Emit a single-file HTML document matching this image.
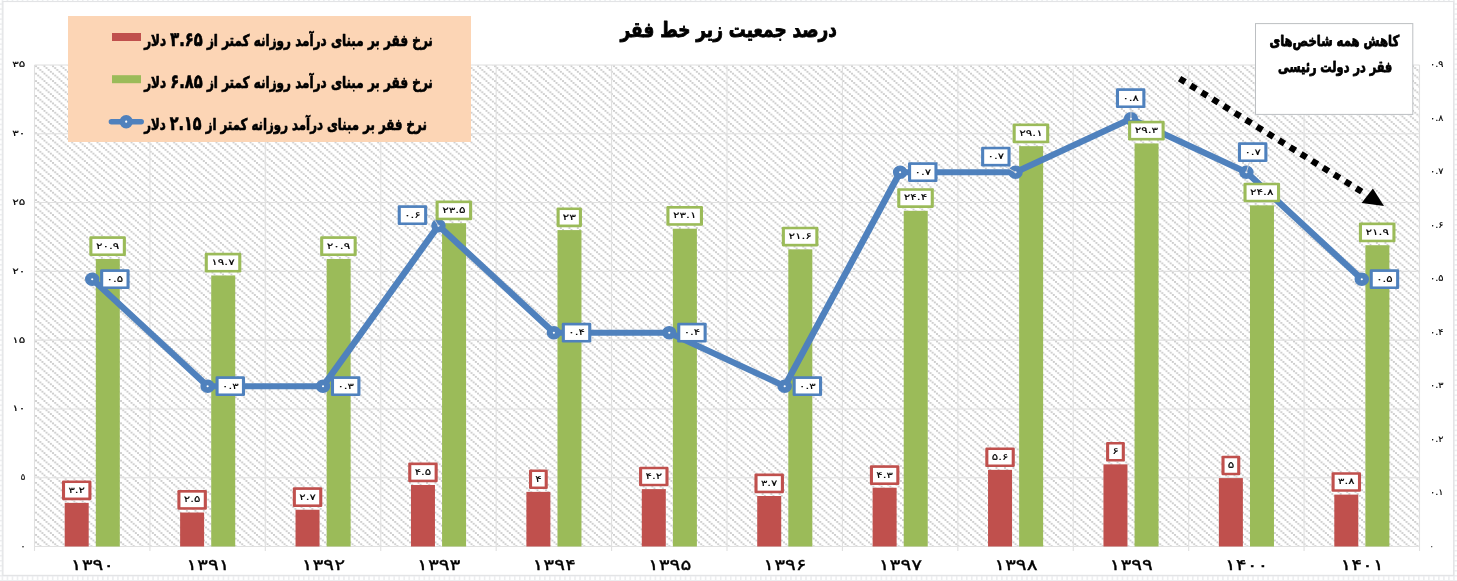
<!DOCTYPE html>
<html lang="fa"><head><meta charset="utf-8"><title>درصد جمعیت زیر خط فقر</title>
<style>
html,body{margin:0;padding:0;background:#fff;}
body{width:1457px;height:581px;overflow:hidden;}
svg{display:block;}
text{font-family:"DejaVu Sans", "Liberation Sans", sans-serif;font-weight:bold;fill:#000;}
.ax{font-size:8.8px;font-weight:normal;stroke:#000;stroke-width:0.15px;}
.dl{font-size:8.6px;font-weight:normal;stroke:#000;stroke-width:0.15px;}
.cat{font-size:15px;font-weight:normal;stroke:#000;stroke-width:0.3px;}
.lg{font-size:16px;stroke:#000;stroke-width:0.7px;stroke-linejoin:round;}
.lgd{font-size:19.5px;letter-spacing:1.2px;}
.tt{font-size:21px;stroke:#000;stroke-width:0.9px;stroke-linejoin:round;}
.tb{font-size:15px;stroke:#000;stroke-width:0.85px;stroke-linejoin:round;}
</style></head><body>
<svg width="1457" height="581" viewBox="0 0 1457 581" role="img" aria-label="درصد جمعیت زیر خط فقر">
<defs>
<pattern id="hatch" x="35.00" y="65.30" width="8.5" height="7.44" patternUnits="userSpaceOnUse">
<rect width="8.5" height="7.44" fill="#fff"/>
<rect x="0.10" y="0.13" width="1.8" height="1.55" fill="#BFBFBF"/>
<rect x="2.23" y="1.99" width="1.8" height="1.55" fill="#BFBFBF"/>
<rect x="4.35" y="3.85" width="1.8" height="1.55" fill="#BFBFBF"/>
<rect x="6.47" y="5.71" width="1.8" height="1.55" fill="#BFBFBF"/>
</pattern>
<pattern id="cells" x="6.65" y="3.35" width="5.0226" height="5.014" patternUnits="userSpaceOnUse">
<rect width="5.1" height="5.1" fill="#fff"/><rect width="1.5" height="5.1" fill="#ECEDEF"/><rect width="5.1" height="1.5" fill="#ECEDEF"/>
</pattern>
</defs>
<rect x="0" y="0" width="1457" height="581" fill="url(#cells)"/>
<rect x="2.9" y="1.5" width="1450.7" height="573.9" fill="#fff" stroke="#E3E4E6" stroke-width="1.2"/>
<rect x="34.5" y="65.0" width="1385.0" height="481.5" fill="url(#hatch)"/>
<path d="M34.5 65.00H1419.5M34.5 133.79H1419.5M34.5 202.57H1419.5M34.5 271.36H1419.5M34.5 340.14H1419.5M34.5 408.93H1419.5M34.5 477.71H1419.5M34.5 546.50H1419.5M34.50 65.0V551.0M149.92 65.0V551.0M265.33 65.0V551.0M380.75 65.0V551.0M496.17 65.0V551.0M611.58 65.0V551.0M727.00 65.0V551.0M842.42 65.0V551.0M957.83 65.0V551.0M1073.25 65.0V551.0M1188.67 65.0V551.0M1304.08 65.0V551.0M1419.50 65.0V551.0" fill="none" stroke="#E0E0E0" stroke-width="1.1"/>
<rect x="64.71" y="502.88" width="24" height="43.62" fill="#C0504D"/>
<rect x="95.81" y="258.98" width="24" height="287.52" fill="#9BBB59"/>
<rect x="180.12" y="512.51" width="24" height="33.99" fill="#C0504D"/>
<rect x="211.22" y="275.48" width="24" height="271.02" fill="#9BBB59"/>
<rect x="295.54" y="509.76" width="24" height="36.74" fill="#C0504D"/>
<rect x="326.64" y="258.98" width="24" height="287.52" fill="#9BBB59"/>
<rect x="410.96" y="484.99" width="24" height="61.51" fill="#C0504D"/>
<rect x="442.06" y="223.21" width="24" height="323.29" fill="#9BBB59"/>
<rect x="526.38" y="491.87" width="24" height="54.63" fill="#C0504D"/>
<rect x="557.48" y="230.09" width="24" height="316.41" fill="#9BBB59"/>
<rect x="641.79" y="489.12" width="24" height="57.38" fill="#C0504D"/>
<rect x="672.89" y="228.71" width="24" height="317.79" fill="#9BBB59"/>
<rect x="757.21" y="496.00" width="24" height="50.50" fill="#C0504D"/>
<rect x="788.31" y="249.35" width="24" height="297.15" fill="#9BBB59"/>
<rect x="872.62" y="487.74" width="24" height="58.76" fill="#C0504D"/>
<rect x="903.73" y="210.83" width="24" height="335.67" fill="#9BBB59"/>
<rect x="988.04" y="469.86" width="24" height="76.64" fill="#C0504D"/>
<rect x="1019.14" y="146.17" width="24" height="400.33" fill="#9BBB59"/>
<rect x="1103.46" y="464.36" width="24" height="82.14" fill="#C0504D"/>
<rect x="1134.56" y="143.42" width="24" height="403.08" fill="#9BBB59"/>
<rect x="1218.88" y="478.11" width="24" height="68.39" fill="#C0504D"/>
<rect x="1249.97" y="205.32" width="24" height="341.18" fill="#9BBB59"/>
<rect x="1334.29" y="494.62" width="24" height="51.88" fill="#C0504D"/>
<rect x="1365.39" y="245.22" width="24" height="301.28" fill="#9BBB59"/>
<g transform="scale(1.080 1)">
<polyline points="85.38,279.20 192.25,386.20 299.11,386.20 405.98,225.70 512.85,332.70 619.71,332.70 726.58,386.20 833.45,172.20 940.32,172.20 1047.18,118.70 1154.05,172.20 1260.92,279.20" fill="none" stroke="#4F81BD" stroke-width="6.1" stroke-linejoin="round" stroke-linecap="round"/>
<circle cx="85.38" cy="279.30" r="3.85" fill="#fff" stroke="#4F81BD" stroke-width="5.7"/>
<circle cx="192.25" cy="386.30" r="3.85" fill="#fff" stroke="#4F81BD" stroke-width="5.7"/>
<circle cx="299.11" cy="386.30" r="3.85" fill="#fff" stroke="#4F81BD" stroke-width="5.7"/>
<circle cx="405.98" cy="225.80" r="3.85" fill="#fff" stroke="#4F81BD" stroke-width="5.7"/>
<circle cx="512.85" cy="332.80" r="3.85" fill="#fff" stroke="#4F81BD" stroke-width="5.7"/>
<circle cx="619.71" cy="332.80" r="3.85" fill="#fff" stroke="#4F81BD" stroke-width="5.7"/>
<circle cx="726.58" cy="386.30" r="3.85" fill="#fff" stroke="#4F81BD" stroke-width="5.7"/>
<circle cx="833.45" cy="172.30" r="3.85" fill="#fff" stroke="#4F81BD" stroke-width="5.7"/>
<circle cx="940.32" cy="172.30" r="3.85" fill="#fff" stroke="#4F81BD" stroke-width="5.7"/>
<circle cx="1047.18" cy="118.80" r="3.85" fill="#fff" stroke="#4F81BD" stroke-width="5.7"/>
<circle cx="1154.05" cy="172.30" r="3.85" fill="#fff" stroke="#4F81BD" stroke-width="5.7"/>
<circle cx="1260.92" cy="279.30" r="3.85" fill="#fff" stroke="#4F81BD" stroke-width="5.7"/>
</g>
<polyline points="426.76,215.00 432.26,216.00 438.46,225.80" fill="none" stroke="#C9CED6" stroke-width="1"/>
<polyline points="1004.54,166.30 1015.54,172.30" fill="none" stroke="#C9CED6" stroke-width="1"/>
<polyline points="1130.96,108.80 1130.96,118.80" fill="none" stroke="#C9CED6" stroke-width="1"/>
<polyline points="1249.38,162.30 1246.38,172.30" fill="none" stroke="#C9CED6" stroke-width="1"/>
<rect x="89.31" y="236.33" width="36.60" height="19.70" rx="1.3" fill="#9BBB59"/>
<rect x="92.41" y="238.93" width="30.40" height="14.50" fill="#fff"/>
<text id="t1" class="dl" transform="translate(107.61 248.58) scale(1.4162 1)" text-anchor="middle">۲۰.۹</text>
<rect x="204.72" y="252.83" width="36.60" height="19.70" rx="1.3" fill="#9BBB59"/>
<rect x="207.82" y="255.43" width="30.40" height="14.50" fill="#fff"/>
<text id="t2" class="dl" transform="translate(223.03 265.08) scale(1.4162 1)" text-anchor="middle">۱۹.۷</text>
<rect x="320.14" y="236.33" width="36.60" height="19.70" rx="1.3" fill="#9BBB59"/>
<rect x="323.24" y="238.93" width="30.40" height="14.50" fill="#fff"/>
<text id="t3" class="dl" transform="translate(338.44 248.58) scale(1.4162 1)" text-anchor="middle">۲۰.۹</text>
<rect x="435.56" y="200.56" width="36.60" height="19.70" rx="1.3" fill="#9BBB59"/>
<rect x="438.66" y="203.16" width="30.40" height="14.50" fill="#fff"/>
<text id="t4" class="dl" transform="translate(453.86 212.81) scale(1.4162 1)" text-anchor="middle">۲۳.۵</text>
<rect x="556.57" y="207.44" width="25.40" height="19.70" rx="1.3" fill="#9BBB59"/>
<rect x="559.67" y="210.04" width="19.20" height="14.50" fill="#fff"/>
<text id="t5" class="dl" transform="translate(569.27 219.69) scale(1.4619 1)" text-anchor="middle">۲۳</text>
<rect x="666.39" y="206.06" width="36.60" height="19.70" rx="1.3" fill="#9BBB59"/>
<rect x="669.49" y="208.66" width="30.40" height="14.50" fill="#fff"/>
<text id="t6" class="dl" transform="translate(684.69 218.31) scale(1.4162 1)" text-anchor="middle">۲۳.۱</text>
<rect x="781.81" y="226.70" width="36.60" height="19.70" rx="1.3" fill="#9BBB59"/>
<rect x="784.91" y="229.30" width="30.40" height="14.50" fill="#fff"/>
<text id="t7" class="dl" transform="translate(800.11 238.95) scale(1.4162 1)" text-anchor="middle">۲۱.۶</text>
<rect x="897.23" y="188.18" width="36.60" height="19.70" rx="1.3" fill="#9BBB59"/>
<rect x="900.33" y="190.78" width="30.40" height="14.50" fill="#fff"/>
<text id="t8" class="dl" transform="translate(915.52 200.43) scale(1.4162 1)" text-anchor="middle">۲۴.۴</text>
<rect x="1012.64" y="123.52" width="36.60" height="19.70" rx="1.3" fill="#9BBB59"/>
<rect x="1015.74" y="126.12" width="30.40" height="14.50" fill="#fff"/>
<text id="t9" class="dl" transform="translate(1030.94 135.77) scale(1.4162 1)" text-anchor="middle">۲۹.۱</text>
<rect x="1128.06" y="120.77" width="36.60" height="19.70" rx="1.3" fill="#9BBB59"/>
<rect x="1131.16" y="123.37" width="30.40" height="14.50" fill="#fff"/>
<text id="t10" class="dl" transform="translate(1146.36 133.02) scale(1.4162 1)" text-anchor="middle">۲۹.۳</text>
<rect x="1243.48" y="182.67" width="36.60" height="19.70" rx="1.3" fill="#9BBB59"/>
<rect x="1246.58" y="185.27" width="30.40" height="14.50" fill="#fff"/>
<text id="t11" class="dl" transform="translate(1261.78 194.92) scale(1.4162 1)" text-anchor="middle">۲۴.۸</text>
<rect x="1358.89" y="222.57" width="36.60" height="19.70" rx="1.3" fill="#9BBB59"/>
<rect x="1361.99" y="225.17" width="30.40" height="14.50" fill="#fff"/>
<text id="t12" class="dl" transform="translate(1377.19 234.82) scale(1.4162 1)" text-anchor="middle">۲۱.۹</text>
<rect x="61.96" y="480.43" width="29.50" height="19.70" rx="1.3" fill="#C0504D"/>
<rect x="65.06" y="483.03" width="23.30" height="14.50" fill="#fff"/>
<text id="t13" class="dl" transform="translate(76.71 492.68) scale(1.3786 1)" text-anchor="middle">۳.۲</text>
<rect x="177.38" y="490.06" width="29.50" height="19.70" rx="1.3" fill="#C0504D"/>
<rect x="180.47" y="492.66" width="23.30" height="14.50" fill="#fff"/>
<text id="t14" class="dl" transform="translate(192.12 502.31) scale(1.3786 1)" text-anchor="middle">۲.۵</text>
<rect x="292.79" y="487.31" width="29.50" height="19.70" rx="1.3" fill="#C0504D"/>
<rect x="295.89" y="489.91" width="23.30" height="14.50" fill="#fff"/>
<text id="t15" class="dl" transform="translate(307.54 499.56) scale(1.3786 1)" text-anchor="middle">۲.۷</text>
<rect x="408.21" y="462.54" width="29.50" height="19.70" rx="1.3" fill="#C0504D"/>
<rect x="411.31" y="465.14" width="23.30" height="14.50" fill="#fff"/>
<text id="t16" class="dl" transform="translate(422.96 474.79) scale(1.3786 1)" text-anchor="middle">۴.۵</text>
<rect x="528.98" y="469.42" width="18.80" height="19.70" rx="1.3" fill="#C0504D"/>
<rect x="532.08" y="472.02" width="12.60" height="14.50" fill="#fff"/>
<text id="t17" class="dl" transform="translate(538.38 481.67) scale(1.4054 1)" text-anchor="middle">۴</text>
<rect x="639.04" y="466.67" width="29.50" height="19.70" rx="1.3" fill="#C0504D"/>
<rect x="642.14" y="469.27" width="23.30" height="14.50" fill="#fff"/>
<text id="t18" class="dl" transform="translate(653.79 478.92) scale(1.3786 1)" text-anchor="middle">۴.۲</text>
<rect x="754.46" y="473.55" width="29.50" height="19.70" rx="1.3" fill="#C0504D"/>
<rect x="757.56" y="476.15" width="23.30" height="14.50" fill="#fff"/>
<text id="t19" class="dl" transform="translate(769.21 485.80) scale(1.3786 1)" text-anchor="middle">۳.۷</text>
<rect x="869.88" y="465.29" width="29.50" height="19.70" rx="1.3" fill="#C0504D"/>
<rect x="872.98" y="467.89" width="23.30" height="14.50" fill="#fff"/>
<text id="t20" class="dl" transform="translate(884.62 477.54) scale(1.3786 1)" text-anchor="middle">۴.۳</text>
<rect x="985.29" y="447.41" width="29.50" height="19.70" rx="1.3" fill="#C0504D"/>
<rect x="988.39" y="450.01" width="23.30" height="14.50" fill="#fff"/>
<text id="t21" class="dl" transform="translate(1000.04 459.66) scale(1.3786 1)" text-anchor="middle">۵.۶</text>
<rect x="1106.06" y="441.91" width="18.80" height="19.70" rx="1.3" fill="#C0504D"/>
<rect x="1109.16" y="444.51" width="12.60" height="14.50" fill="#fff"/>
<text id="t22" class="dl" transform="translate(1115.46 454.16) scale(1.4054 1)" text-anchor="middle">۶</text>
<rect x="1221.47" y="455.66" width="18.80" height="19.70" rx="1.3" fill="#C0504D"/>
<rect x="1224.57" y="458.26" width="12.60" height="14.50" fill="#fff"/>
<text id="t23" class="dl" transform="translate(1230.88 467.91) scale(1.4054 1)" text-anchor="middle">۵</text>
<rect x="1331.54" y="472.17" width="29.50" height="19.70" rx="1.3" fill="#C0504D"/>
<rect x="1334.64" y="474.77" width="23.30" height="14.50" fill="#fff"/>
<text id="t24" class="dl" transform="translate(1346.29 484.42) scale(1.3786 1)" text-anchor="middle">۳.۸</text>
<rect x="100.11" y="269.35" width="29.50" height="19.70" rx="1.3" fill="#4F81BD"/>
<rect x="103.21" y="271.95" width="23.30" height="14.50" fill="#fff"/>
<text id="t25" class="dl" transform="translate(114.86 281.60) scale(1.3786 1)" text-anchor="middle">۰.۵</text>
<rect x="215.53" y="376.35" width="29.50" height="19.70" rx="1.3" fill="#4F81BD"/>
<rect x="218.62" y="378.95" width="23.30" height="14.50" fill="#fff"/>
<text id="t26" class="dl" transform="translate(230.28 388.60) scale(1.3786 1)" text-anchor="middle">۰.۳</text>
<rect x="330.94" y="376.35" width="29.50" height="19.70" rx="1.3" fill="#4F81BD"/>
<rect x="334.04" y="378.95" width="23.30" height="14.50" fill="#fff"/>
<text id="t27" class="dl" transform="translate(345.69 388.60) scale(1.3786 1)" text-anchor="middle">۰.۳</text>
<rect x="397.71" y="205.35" width="29.50" height="19.70" rx="1.3" fill="#4F81BD"/>
<rect x="400.81" y="207.95" width="23.30" height="14.50" fill="#fff"/>
<text id="t28" class="dl" transform="translate(412.46 217.60) scale(1.3786 1)" text-anchor="middle">۰.۶</text>
<rect x="561.77" y="322.85" width="29.50" height="19.70" rx="1.3" fill="#4F81BD"/>
<rect x="564.88" y="325.45" width="23.30" height="14.50" fill="#fff"/>
<text id="t29" class="dl" transform="translate(576.52 335.10) scale(1.3786 1)" text-anchor="middle">۰.۴</text>
<rect x="677.19" y="322.85" width="29.50" height="19.70" rx="1.3" fill="#4F81BD"/>
<rect x="680.29" y="325.45" width="23.30" height="14.50" fill="#fff"/>
<text id="t30" class="dl" transform="translate(691.94 335.10) scale(1.3786 1)" text-anchor="middle">۰.۴</text>
<rect x="792.61" y="376.35" width="29.50" height="19.70" rx="1.3" fill="#4F81BD"/>
<rect x="795.71" y="378.95" width="23.30" height="14.50" fill="#fff"/>
<text id="t31" class="dl" transform="translate(807.36 388.60) scale(1.3786 1)" text-anchor="middle">۰.۳</text>
<rect x="908.02" y="162.35" width="29.50" height="19.70" rx="1.3" fill="#4F81BD"/>
<rect x="911.12" y="164.95" width="23.30" height="14.50" fill="#fff"/>
<text id="t32" class="dl" transform="translate(922.77 174.60) scale(1.3786 1)" text-anchor="middle">۰.۷</text>
<rect x="981.09" y="146.75" width="29.50" height="19.70" rx="1.3" fill="#4F81BD"/>
<rect x="984.19" y="149.35" width="23.30" height="14.50" fill="#fff"/>
<text id="t33" class="dl" transform="translate(995.84 159.00) scale(1.3786 1)" text-anchor="middle">۰.۷</text>
<rect x="1115.91" y="88.35" width="29.50" height="19.70" rx="1.3" fill="#4F81BD"/>
<rect x="1119.01" y="90.95" width="23.30" height="14.50" fill="#fff"/>
<text id="t34" class="dl" transform="translate(1130.66 100.60) scale(1.3786 1)" text-anchor="middle">۰.۸</text>
<rect x="1237.92" y="142.35" width="29.50" height="19.70" rx="1.3" fill="#4F81BD"/>
<rect x="1241.02" y="144.95" width="23.30" height="14.50" fill="#fff"/>
<text id="t35" class="dl" transform="translate(1252.67 154.60) scale(1.3786 1)" text-anchor="middle">۰.۷</text>
<rect x="1369.69" y="269.35" width="29.50" height="19.70" rx="1.3" fill="#4F81BD"/>
<rect x="1372.79" y="271.95" width="23.30" height="14.50" fill="#fff"/>
<text id="t36" class="dl" transform="translate(1384.44 281.60) scale(1.3786 1)" text-anchor="middle">۰.۵</text>
<text id="t37" class="ax" transform="translate(18.80 67.40) scale(1.3752 1)" text-anchor="middle">۳۵</text>
<text id="t38" class="ax" transform="translate(18.80 136.19) scale(1.3752 1)" text-anchor="middle">۳۰</text>
<text id="t39" class="ax" transform="translate(18.80 204.97) scale(1.3752 1)" text-anchor="middle">۲۵</text>
<text id="t40" class="ax" transform="translate(18.80 273.76) scale(1.3752 1)" text-anchor="middle">۲۰</text>
<text id="t41" class="ax" transform="translate(18.80 342.54) scale(1.3752 1)" text-anchor="middle">۱۵</text>
<text id="t42" class="ax" transform="translate(18.80 411.33) scale(1.3752 1)" text-anchor="middle">۱۰</text>
<text id="t43" class="ax" transform="translate(23.05 480.11) scale(0.9505 1)" text-anchor="middle">۵</text>
<text id="t44" class="ax" transform="translate(23.05 548.90) scale(0.9505 1)" text-anchor="middle">۰</text>
<text id="t45" class="ax" transform="translate(1436.75 67.40) scale(1.1020 1)" text-anchor="middle">۰.۹</text>
<text id="t46" class="ax" transform="translate(1436.75 120.90) scale(1.1020 1)" text-anchor="middle">۰.۸</text>
<text id="t47" class="ax" transform="translate(1436.75 174.40) scale(1.1020 1)" text-anchor="middle">۰.۷</text>
<text id="t48" class="ax" transform="translate(1436.75 227.90) scale(1.1020 1)" text-anchor="middle">۰.۶</text>
<text id="t49" class="ax" transform="translate(1436.75 281.40) scale(1.1020 1)" text-anchor="middle">۰.۵</text>
<text id="t50" class="ax" transform="translate(1436.75 334.90) scale(1.1020 1)" text-anchor="middle">۰.۴</text>
<text id="t51" class="ax" transform="translate(1436.75 388.40) scale(1.1020 1)" text-anchor="middle">۰.۳</text>
<text id="t52" class="ax" transform="translate(1436.75 441.90) scale(1.1020 1)" text-anchor="middle">۰.۲</text>
<text id="t53" class="ax" transform="translate(1436.75 495.40) scale(1.1020 1)" text-anchor="middle">۰.۱</text>
<text id="t54" class="ax" transform="translate(1431.75 548.90) scale(0.7393 1)" text-anchor="middle">۰</text>
<text id="t55" class="cat" transform="translate(92.51 570.00) scale(1.3464 1)" text-anchor="middle">۱۳۹۰</text>
<text id="t56" class="cat" transform="translate(207.93 570.00) scale(1.3464 1)" text-anchor="middle">۱۳۹۱</text>
<text id="t57" class="cat" transform="translate(323.34 570.00) scale(1.3464 1)" text-anchor="middle">۱۳۹۲</text>
<text id="t58" class="cat" transform="translate(438.76 570.00) scale(1.3464 1)" text-anchor="middle">۱۳۹۳</text>
<text id="t59" class="cat" transform="translate(554.17 570.00) scale(1.3464 1)" text-anchor="middle">۱۳۹۴</text>
<text id="t60" class="cat" transform="translate(669.59 570.00) scale(1.3464 1)" text-anchor="middle">۱۳۹۵</text>
<text id="t61" class="cat" transform="translate(785.01 570.00) scale(1.3464 1)" text-anchor="middle">۱۳۹۶</text>
<text id="t62" class="cat" transform="translate(900.42 570.00) scale(1.3464 1)" text-anchor="middle">۱۳۹۷</text>
<text id="t63" class="cat" transform="translate(1015.84 570.00) scale(1.3464 1)" text-anchor="middle">۱۳۹۸</text>
<text id="t64" class="cat" transform="translate(1131.26 570.00) scale(1.3464 1)" text-anchor="middle">۱۳۹۹</text>
<text id="t65" class="cat" transform="translate(1246.67 570.00) scale(1.3464 1)" text-anchor="middle">۱۴۰۰</text>
<text id="t66" class="cat" transform="translate(1362.09 570.00) scale(1.3464 1)" text-anchor="middle">۱۴۰۱</text>
<rect x="68" y="16" width="403" height="126" fill="#FCD5B5"/>
<rect x="112" y="33" width="29" height="8" fill="#C0504D"/>
<rect x="112" y="75.2" width="29" height="8" fill="#9BBB59"/>
<line x1="111.4" y1="121.7" x2="141.2" y2="121.7" stroke="#4F81BD" stroke-width="5.5" stroke-linecap="round"/>
<circle cx="126.2" cy="121.7" r="3.9" fill="#fff" stroke="#4F81BD" stroke-width="5.6"/>
<text id="t67" class="lg" transform="translate(288.50 45.90) scale(0.7517 1)" text-anchor="middle" direction="rtl">نرخ فقر بر مبنای درآمد روزانه کمتر از <tspan class="lgd">۳.۶۵</tspan> دلار</text>
<text id="t68" class="lg" transform="translate(288.50 88.20) scale(0.7517 1)" text-anchor="middle" direction="rtl">نرخ فقر بر مبنای درآمد روزانه کمتر از <tspan class="lgd">۶.۸۵</tspan> دلار</text>
<text id="t69" class="lg" transform="translate(285.50 130.00) scale(0.7361 1)" text-anchor="middle" direction="rtl">نرخ فقر بر مبنای درآمد روزانه کمتر از <tspan class="lgd">۲.۱۵</tspan> دلار</text>
<text id="t70" class="tt" transform="translate(728.75 36.60) scale(0.8048 1)" text-anchor="middle" direction="rtl">درصد جمعیت زیر خط فقر</text>
<rect x="1255.5" y="23.6" width="157.3" height="90.8" fill="#fff" stroke="#BCBFC2" stroke-width="1"/>
<text id="t71" class="tb" transform="translate(1334.30 46.20) scale(0.7754 1)" text-anchor="middle" direction="rtl">کاهش همه شاخص‌های</text>
<text id="t72" class="tb" transform="translate(1335.15 71.50) scale(0.7554 1)" text-anchor="middle" direction="rtl">فقر در دولت رئیسی</text>
<line x1="1179.6" y1="78.6" x2="1361.8" y2="191.7" stroke="#000" stroke-width="6.3" stroke-dasharray="6.5 6.49"/>
<polygon points="1372.9,188.6 1361.6,202.9 1384,205.9" fill="#000"/>
</svg>
</body></html>
